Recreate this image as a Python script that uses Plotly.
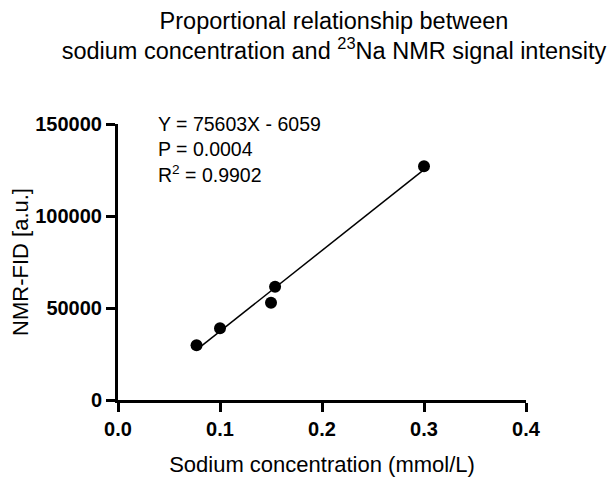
import numpy as np
import plotly.graph_objects as go

# Data
sodium_mmol = [0.077, 0.100, 0.150, 0.154, 0.300]
nmr_fid = [29800, 39000, 52800, 61500, 127000]

x_ticks = [0.0, 0.1, 0.2, 0.3, 0.4]
x_tick_labels = ["0.0", "0.1", "0.2", "0.3", "0.4"]
y_ticks = [0, 50000, 100000, 150000]
y_tick_labels = ["0", "50000", "100000", "150000"]

stats_text = "Y = 75603X - 6059<br>P = 0.0004<br>R<sup>2</sup> = 0.9902"

# Linear regression line (fit of the data)
slope, intercept = np.polyfit(sodium_mmol, nmr_fid, 1)
fit_x = [min(sodium_mmol), max(sodium_mmol)]
fit_y = [slope * v + intercept for v in fit_x]

FONT = "Liberation Sans, Arial, sans-serif"
# the page body has an 8px default margin; compensate
OFF = 8
W, H = 615 - OFF, 477 - OFF

fig = go.Figure()
fig.add_trace(go.Scatter(x=fit_x, y=fit_y, mode="lines",
                         line=dict(color="black", width=1.5), showlegend=False))
fig.add_trace(go.Scatter(x=sodium_mmol, y=nmr_fid, mode="markers",
                         marker=dict(color="black", size=12), showlegend=False,
                         cliponaxis=False))

fig.add_annotation(x=0.093, y=1.048, xref="paper", yref="paper", text=stats_text,
                   showarrow=False, xanchor="left", yanchor="top", align="left",
                   font=dict(family=FONT, size=19.5, color="black"))

fig.update_layout(
    width=W, height=H,
    margin=dict(l=118 - OFF, r=89, t=124 - OFF, b=77),
    paper_bgcolor="white", plot_bgcolor="white",
    font=dict(family=FONT, color="black"),
    title=dict(text="Proportional relationship between<br>sodium concentration and <sup>23</sup>Na NMR signal intensity",
               x=(334 - OFF) / W, xref="container", xanchor="center",
               y=1 - (28.5 - OFF) / H, yref="container", yanchor="middle",
               font=dict(family=FONT, size=23.5, color="black")),
    xaxis=dict(range=[0, 0.4], tickvals=x_ticks, ticktext=x_tick_labels,
               showline=True, linecolor="black", linewidth=3,
               ticks="outside", ticklen=9, tickwidth=3, tickcolor="black",
               showgrid=False, zeroline=False, automargin=False,
               tickfont=dict(family=FONT, size=20, color="black", weight="bold"),
               title=dict(text="Sodium concentration (mmol/L)", standoff=18,
                          font=dict(family=FONT, size=22, color="black"))),
    yaxis=dict(range=[0, 150000], tickvals=y_ticks, ticktext=y_tick_labels,
               showline=True, linecolor="black", linewidth=3,
               ticks="outside", ticklen=9, tickwidth=3, tickcolor="black",
               showgrid=False, zeroline=False, automargin=False,
               tickfont=dict(family=FONT, size=20, color="black", weight="bold"),
               title=dict(text="NMR-FID [a.u.]", standoff=19,
                          font=dict(family=FONT, size=22, color="black"))),
)

fig.write_html("out.html")
